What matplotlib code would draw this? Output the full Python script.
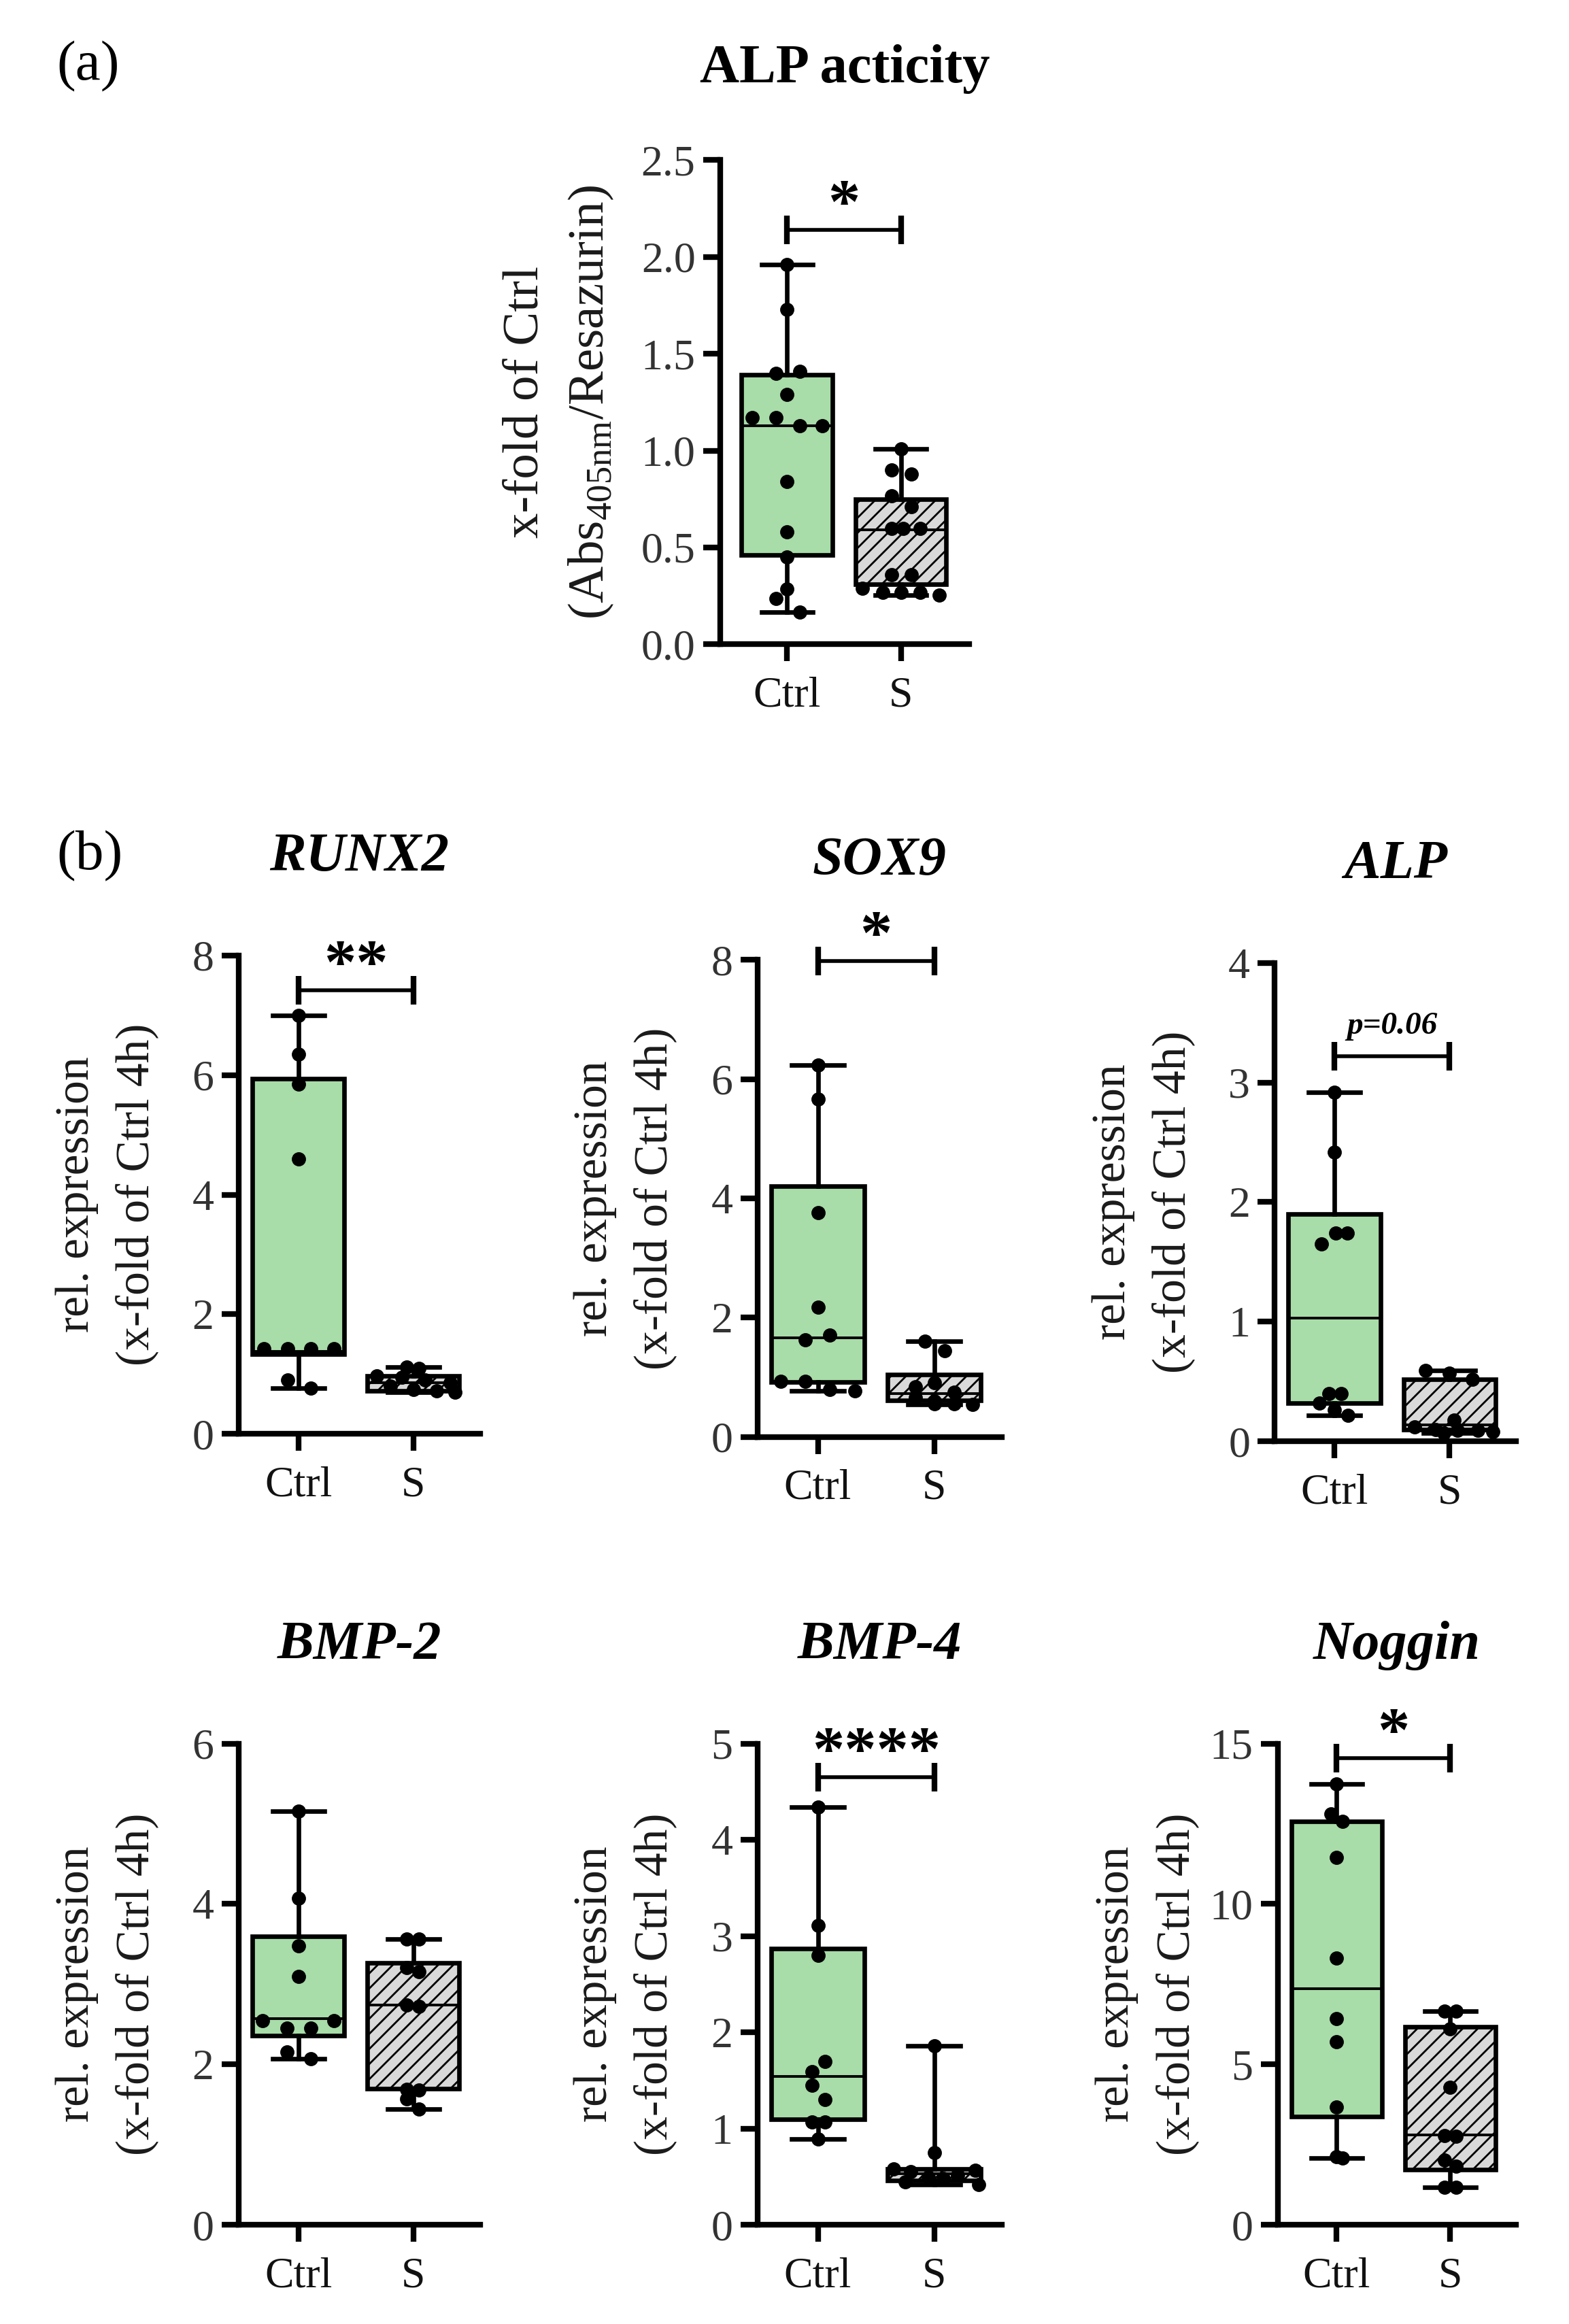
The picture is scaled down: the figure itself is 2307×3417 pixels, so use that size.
import matplotlib

matplotlib.use("Agg")
import matplotlib.pyplot as plt
import numpy as np

plt.rcParams["font.family"] = ["Liberation Serif", "DejaVu Serif"]
plt.rcParams["mathtext.fontset"] = "custom"
plt.rcParams["mathtext.rm"] = "Liberation Serif"
plt.rcParams["hatch.linewidth"] = 1.0

# .. (values, horizontal jitter, box stats).
groups = ["Ctrl", "S"]

# (a) ALP activity
alp_act_ctrl = [1.96, 1.73, 1.40, 1.41, 1.29, 1.17, 1.17, 1.13, 1.13, 0.84,
                0.58, 0.45, 0.285, 0.235, 0.166]
alp_act_ctrl_dx = [0, 0, -0.1, 0.11, 0, -0.31, -0.1, 0.11, 0.31, 0,
                   0, 0, 0, -0.1, 0.11]
alp_act_ctrl_box = [0.166, 0.46, 1.13, 1.39, 1.96]  # lo, q1, med, q3, hi
alp_act_s = [1.01, 0.90, 0.88, 0.765, 0.71, 0.60, 0.60, 0.60, 0.36, 0.36,
             0.29, 0.27, 0.27, 0.27, 0.255]
alp_act_s_dx = [0, -0.08, 0.09, -0.08, 0.09, -0.08, 0.02, 0.17, -0.08, 0.09,
                -0.34, -0.16, 0, 0.17, 0.34]
alp_act_s_box = [0.255, 0.31, 0.59, 0.75, 1.01]

# (b) RUNX2
runx2_ctrl = [7.0, 6.35, 5.85, 4.6, 1.42, 1.42, 1.42, 1.42, 0.9, 0.76]
runx2_ctrl_dx = [0, 0, 0, 0, -0.3, -0.09, 0.11, 0.31, -0.09, 0.11]
runx2_ctrl_box = [0.76, 1.33, 1.38, 5.94, 7.0]
runx2_s = [1.12, 1.10, 0.97, 0.95, 0.90, 0.86, 0.80, 0.74, 0.72, 0.70]
runx2_s_dx = [-0.06, 0.05, -0.32, -0.1, 0.1, 0.32, -0.2, 0.0, 0.2, 0.36]
runx2_s_box = [0.70, 0.72, 0.86, 0.97, 1.12]

# SOX9
sox9_ctrl = [6.24, 5.66, 3.76, 2.18, 1.71, 1.63, 0.93, 0.93, 0.80, 0.77]
sox9_ctrl_dx = [0, 0, 0, 0, 0.10, -0.11, -0.32, -0.11, 0.10, 0.32]
sox9_ctrl_box = [0.77, 0.92, 1.66, 4.20, 6.24]
sox9_s = [1.61, 1.45, 0.91, 0.84, 0.75, 0.66, 0.60, 0.56, 0.55, 0.54]
sox9_s_dx = [-0.08, 0.09, 0, -0.16, 0.17, -0.16, 0.0, 0.0, 0.17, 0.33]
sox9_s_box = [0.54, 0.61, 0.73, 1.04, 1.61]

# ALP
alp_ctrl = [2.92, 2.42, 1.74, 1.74, 1.65, 0.40, 0.40, 0.32, 0.26, 0.22]
alp_ctrl_dx = [0, 0, 0.01, 0.11, -0.11, -0.05, 0.06, -0.13, 0.0, 0.12]
alp_ctrl_box = [0.22, 0.32, 1.03, 1.90, 2.92]
alp_s = [0.59, 0.57, 0.52, 0.18, 0.12, 0.10, 0.09, 0.09, 0.08, 0.07]
alp_s_dx = [-0.21, 0.0, 0.2, 0.04, -0.3, -0.12, 0.07, 0.25, 0.38, -0.05]
alp_s_box = [0.07, 0.10, 0.14, 0.52, 0.59]

# BMP-2
bmp2_ctrl = [5.16, 4.07, 3.48, 3.10, 2.55, 2.55, 2.45, 2.45, 2.16, 2.07]
bmp2_ctrl_dx = [0, 0, 0, 0, -0.31, 0.31, -0.10, 0.11, -0.10, 0.11]
bmp2_ctrl_box = [2.07, 2.36, 2.57, 3.60, 5.16]
bmp2_s = [3.56, 3.56, 3.21, 3.16, 2.74, 2.72, 1.69, 1.68, 1.57, 1.44]
bmp2_s_dx = [-0.06, 0.05, -0.06, 0.05, -0.06, 0.05, -0.06, 0.05, -0.06, 0.05]
bmp2_s_box = [1.44, 1.70, 2.74, 3.27, 3.56]

# BMP-4
bmp4_ctrl = [4.34, 3.11, 2.80, 1.70, 1.59, 1.45, 1.30, 1.07, 1.07, 0.89]
bmp4_ctrl_dx = [0, 0, 0, 0.06, -0.05, -0.05, 0.06, -0.05, 0.06, 0]
bmp4_ctrl_box = [0.89, 1.10, 1.54, 2.87, 4.34]
bmp4_s = [1.86, 0.75, 0.58, 0.57, 0.55, 0.52, 0.50, 0.48, 0.45, 0.42]
bmp4_s_dx = [0, 0, -0.35, 0.35, -0.2, 0.2, -0.05, 0.08, -0.25, 0.38]
bmp4_s_box = [0.42, 0.46, 0.53, 0.58, 1.86]

# Noggin
noggin_ctrl = [13.74, 12.8, 12.57, 11.45, 8.31, 6.42, 5.70, 3.68, 2.12, 2.08]
noggin_ctrl_dx = [0, -0.05, 0.05, 0, 0, 0, 0, 0, 0, 0.05]
noggin_ctrl_box = [2.08, 3.38, 7.36, 12.57, 13.74]
noggin_s = [6.66, 6.66, 6.12, 4.28, 2.78, 2.77, 2.03, 1.82, 1.18, 1.17]
noggin_s_dx = [-0.05, 0.05, 0, 0, -0.05, 0.05, -0.05, 0.05, -0.05, 0.05]
noggin_s_box = [1.17, 1.72, 2.80, 6.18, 6.66]

# Significance brackets: (bracket height, label)
alp_act_sig = (2.14, "*")
runx2_sig = (7.42, "**")
sox9_sig = (7.98, "*")
alp_sig = (3.22, "p=0.06")
bmp4_sig = (4.65, "****")
noggin_sig = (14.55, "*")

# .. Figure setup.
W, H, DPI = 2307, 3417, 200
SX, SY = 2.192, 2.178  # reference layout was measured on a downscaled view
fig = plt.figure(figsize=(W / DPI, H / DPI), dpi=DPI)

CTRL_COLOR = "#a8dca8"
S_COLOR = "#d9d9d9"
LW = 2.4


def add_axes(x0, y0, x1, y1):
    """Add axes from a box given in measured view coordinates."""
    return fig.add_axes([
        x0 * SX / W,
        1 - y1 * SY / H,
        (x1 - x0) * SX / W,
        (y1 - y0) * SY / H,
    ])


def draw_box(ax, stats, pos, color, hatch):
    lo, q1, med, q3, hi = stats
    ax.bxp(
        [dict(whislo=lo, q1=q1, med=med, q3=q3, whishi=hi, fliers=[])],
        positions=[pos],
        widths=0.8,
        capwidths=[0.45],
        patch_artist=True,
        manage_ticks=False,
        showfliers=False,
        boxprops=dict(facecolor=color, edgecolor="black", linewidth=LW,
                      hatch=hatch),
        whiskerprops=dict(color="black", linewidth=LW),
        capprops=dict(color="black", linewidth=LW),
        medianprops=dict(color="black", linewidth=1.4),
        zorder=2,
    )


def draw_panel(ax, ctrl, ctrl_dx, ctrl_box, s, s_dx, s_box, yticks,
               ylabel, title, sig, xlim=(0.48, 2.58), fmt="{:g}",
               label_x=-0.33, label_size=25, title_pad=52):
    draw_box(ax, ctrl_box, 1, CTRL_COLOR, None)
    draw_box(ax, s_box, 2, S_COLOR, "///")
    ax.plot(1 + np.array(ctrl_dx), ctrl, "o", color="black", ms=6.5,
            zorder=5, clip_on=False)
    ax.plot(2 + np.array(s_dx), s, "o", color="black", ms=6.5,
            zorder=5, clip_on=False)

    ax.set_xlim(*xlim)
    ax.set_ylim(yticks[0], yticks[-1])
    ax.set_yticks(yticks)
    ax.set_yticklabels([fmt.format(v) for v in yticks])
    ax.set_xticks([1, 2])
    ax.set_xticklabels(groups)
    for side in ("top", "right"):
        ax.spines[side].set_visible(False)
    for side in ("left", "bottom"):
        ax.spines[side].set_linewidth(3.0)
    ax.tick_params(axis="both", direction="out", length=9, width=3.0,
                   labelsize=23)
    ax.tick_params(axis="y", pad=4, labelcolor="#333333")
    ax.tick_params(axis="x", pad=8, labelcolor="#111111")

    ax.set_ylabel(ylabel, fontsize=label_size, color="#1a1a1a",
                  linespacing=1.5)
    ax.yaxis.set_label_coords(label_x, 0.5)

    ax.annotate(title, xy=(0.5, 1), xycoords="axes fraction",
                xytext=(0, title_pad), textcoords="offset points",
                ha="center", va="center", fontsize=29, fontweight="bold",
                fontstyle="normal" if "acticity" in title else "italic")

    if sig is not None:
        y, text = sig
        ax.plot([1, 2], [y, y], color="black", lw=2.0, clip_on=False,
                solid_capstyle="butt")
        ax.plot([1, 2], [y, y], "|", color="black", ms=15, mew=3.0,
                clip_on=False)
        if text.startswith("p"):
            ax.annotate(text, xy=(1.5, y), xytext=(0, 12),
                        textcoords="offset points", ha="center",
                        va="baseline", fontsize=17, fontweight="bold",
                        fontstyle="italic")
        else:
            ax.annotate(text, xy=(1.5, y), xytext=(0, 4),
                        textcoords="offset points", ha="center",
                        va="baseline", fontsize=34, fontweight="bold")


ylab = "rel. expression\n(x-fold of Ctrl 4h)"

ax_a = add_axes(483, 108, 650, 435)
draw_panel(ax_a, alp_act_ctrl, alp_act_ctrl_dx, alp_act_ctrl_box,
           alp_act_s, alp_act_s_dx, alp_act_s_box,
           [0.0, 0.5, 1.0, 1.5, 2.0, 2.5],
           "x-fold of Ctrl\n(Abs$_{\\mathrm{405nm}}$/Resazurin)",
           "ALP acticity", alp_act_sig, xlim=(0.41, 2.6), fmt="{:.1f}",
           label_x=-0.42, label_size=27, title_pad=48)

ax = add_axes(160, 645, 322, 968)
draw_panel(ax, runx2_ctrl, runx2_ctrl_dx, runx2_ctrl_box, runx2_s,
           runx2_s_dx, runx2_s_box, [0, 2, 4, 6, 8], ylab, "RUNX2",
           runx2_sig)
ax = add_axes(508, 648, 672, 970)
draw_panel(ax, sox9_ctrl, sox9_ctrl_dx, sox9_ctrl_box, sox9_s, sox9_s_dx,
           sox9_s_box, [0, 2, 4, 6, 8], ylab, "SOX9", sox9_sig)
ax = add_axes(855, 650, 1017, 973)
draw_panel(ax, alp_ctrl, alp_ctrl_dx, alp_ctrl_box, alp_s, alp_s_dx,
           alp_s_box, [0, 1, 2, 3, 4], ylab, "ALP", alp_sig)

ax = add_axes(160, 1177, 322, 1502)
draw_panel(ax, bmp2_ctrl, bmp2_ctrl_dx, bmp2_ctrl_box, bmp2_s, bmp2_s_dx,
           bmp2_s_box, [0, 2, 4, 6], ylab, "BMP-2", None)
ax = add_axes(508, 1177, 672, 1502)
draw_panel(ax, bmp4_ctrl, bmp4_ctrl_dx, bmp4_ctrl_box, bmp4_s, bmp4_s_dx,
           bmp4_s_box, [0, 1, 2, 3, 4, 5], ylab, "BMP-4", bmp4_sig)
ax = add_axes(857, 1177, 1017, 1502)
draw_panel(ax, noggin_ctrl, noggin_ctrl_dx, noggin_ctrl_box, noggin_s,
           noggin_s_dx, noggin_s_box, [0, 5, 10, 15], ylab, "Noggin",
           noggin_sig)

fig.text(38 * SX / W, 1 - 45 * SY / H, "(a)", ha="left", va="center",
         fontsize=30)
fig.text(38 * SX / W, 1 - 578 * SY / H, "(b)", ha="left", va="center",
         fontsize=30)

fig.savefig("out.png", dpi=DPI)
